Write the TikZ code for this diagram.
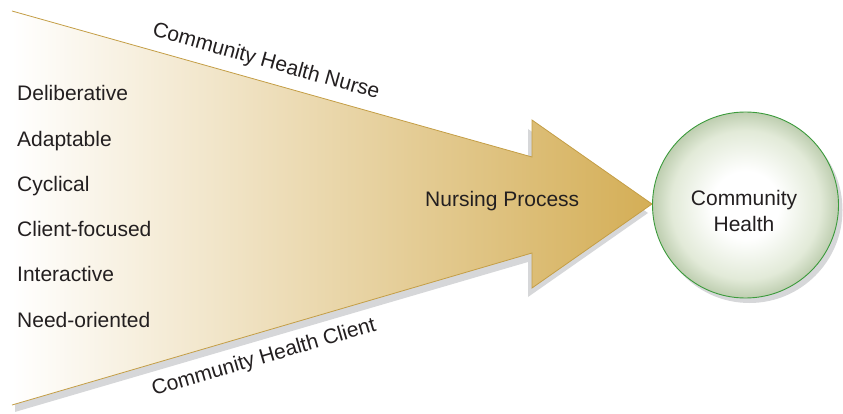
\documentclass[tikz,border=0pt]{standalone}
\usepackage{fontspec}
\setmainfont{Liberation Sans}
\usetikzlibrary{calc}
\definecolor{gold}{RGB}{212,174,86}
\definecolor{goldline}{RGB}{196,158,70}
\definecolor{shadowgray}{RGB}{214,215,217}
\definecolor{txt}{RGB}{35,31,32}
\definecolor{ringgreen}{RGB}{60,155,60}
\definecolor{paleg}{RGB}{226,234,216}
\definecolor{edgeg}{RGB}{190,206,176}
\pgfdeclareradialshading{chshade}{\pgfpoint{0bp}{0bp}}{color(0bp)=(white); color(9bp)=(white); color(20bp)=(paleg); color(25bp)=(edgeg); color(50bp)=(edgeg)}
\tikzset{
  lbl/.style={font=\fontsize{21}{25}\selectfont, text=txt, inner sep=0pt},
  item/.style={lbl, anchor=base west},
}
\begin{document}
\begin{tikzpicture}[x=1pt,y=-1pt]
\useasboundingbox (0,0) rectangle (843,414);
% arrow corners
\coordinate (a1) at (12,11);
\coordinate (a2) at (532,157);
\coordinate (a3) at (532,120);
\coordinate (a4) at (652,204);
\coordinate (a5) at (532,288);
\coordinate (a6) at (532,253);
\coordinate (a7) at (12,405);
\coordinate (sh) at (-4,9);
% arrow shadow
\begin{scope}
\clip (15,0) rectangle (843,414);
\fill[shadowgray] ($(a1)+(sh)$) -- ($(a2)+(sh)$) -- ($(a3)+(sh)$) -- ($(a4)+(sh)$) -- ($(a5)+(sh)$) -- ($(a6)+(sh)$) -- ($(a7)+(sh)$) -- cycle;
\end{scope}
% arrow body
\shade[left color=white, right color=gold] (a1) -- (a2) -- (a3) -- (a4) -- (a5) -- (a6) -- (a7) -- cycle;
\draw[goldline, line width=0.8pt, line join=miter] (a1) -- (a2) -- (a3) -- (a4) -- (a5) -- (a6) -- (a7);
% circle shadow and circle
\coordinate (cc) at (745.5,205);
\fill[shadowgray] ($(cc)+(4,5)$) circle[radius=93pt];
\shade[shading=chshade] (cc) circle[radius=93pt];
\node[circle, draw=ringgreen, line width=0.9pt, minimum size=186pt, inner sep=0pt] (ch) at (cc) {};
\node[lbl, align=center, font=\fontsize{21}{26}\selectfont] (cht) at (744,211) {Community\\Health};
% labels
\node[lbl, rotate=-15.7] (nurse) at (266,62) {Community Health Nurse};
\node[lbl, rotate=16.3] (client) at (264,358) {Community Health Client};
\node[item] (np) at (425,207) {Nursing Process};
\node[item] (i1) at (17,101) {Deliberative};
\node[item] (i2) at (17,146.2) {Adaptable};
\node[item] (i3) at (17,191.4) {Cyclical};
\node[item] (i4) at (17,236.6) {Client-focused};
\node[item] (i5) at (17,281.8) {Interactive};
\node[item] (i6) at (17,327) {Need-oriented};
\end{tikzpicture}
\end{document}
